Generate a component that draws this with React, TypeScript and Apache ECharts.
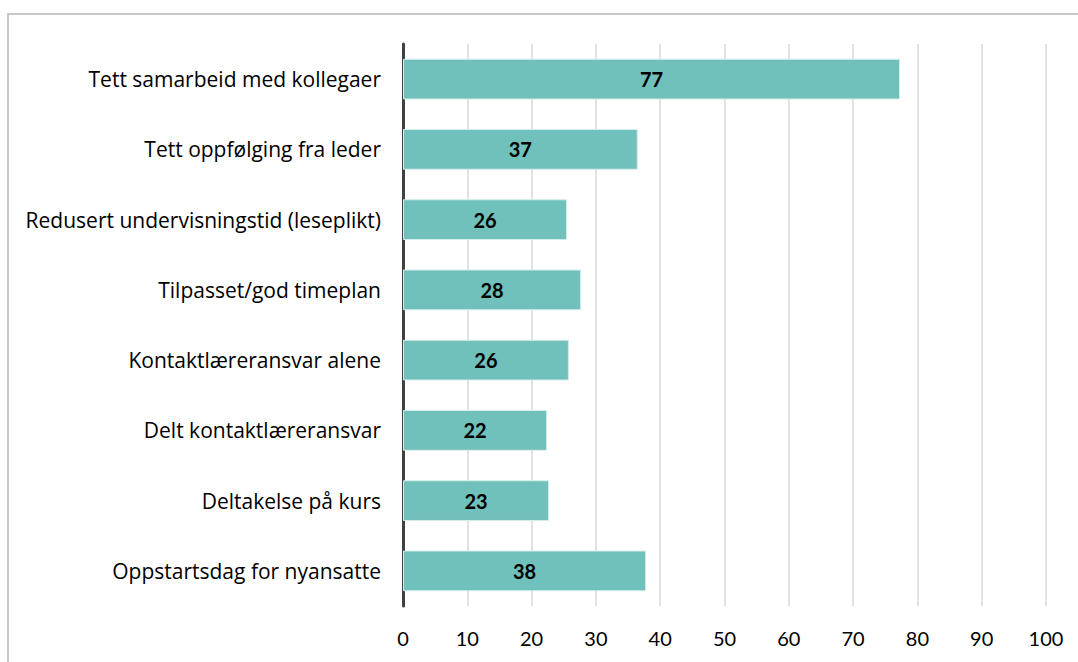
import React, { useEffect, useRef } from "react";
import * as echarts from "echarts";

const categories = [
  "Tett samarbeid med kollegaer",
  "Tett oppfølging fra leder",
  "Redusert undervisningstid (leseplikt)",
  "Tilpasset/god timeplan",
  "Kontaktlæreransvar alene",
  "Delt kontaktlæreransvar",
  "Deltakelse på kurs",
  "Oppstartsdag for nyansatte",
];
const values = [77.3, 36.5, 25.5, 27.7, 25.8, 22.4, 22.7, 37.8];
const xTicks = { min: 0, max: 100, interval: 10 };

export default function App() {
  const ref = useRef<HTMLDivElement>(null);
  useEffect(() => {
    const chart = echarts.init(ref.current!, null, { renderer: "svg" });
    const font = "Lato, 'Noto Sans', sans-serif";
    const catFont = "'Open Sans', 'Noto Sans', sans-serif";
    chart.setOption({
      animation: false,
      backgroundColor: "#ffffff",
      graphic: [
        {
          type: "rect",
          shape: { x: 8, y: 14, width: 1200, height: 800 },
          style: { fill: "none", stroke: "#c8c8c8", lineWidth: 2 },
          silent: true,
          z: -10,
        },
      ],
      grid: { left: 403, right: 32, top: 44, bottom: 56, containLabel: false },
      xAxis: {
        type: "value",
        min: xTicks.min,
        max: xTicks.max,
        interval: xTicks.interval,
        axisLine: { show: false },
        axisTick: { show: false },
        splitLine: { show: true, lineStyle: { color: "#d9d9d9", width: 1.5 } },
        axisLabel: { color: "#000", fontSize: 20, fontFamily: font, margin: 22 },
      },
      yAxis: {
        type: "category",
        data: categories,
        inverse: true,
        axisLine: { show: true, lineStyle: { color: "#404040", width: 3 } },
        axisTick: { show: false },
        axisLabel: { color: "#000", fontSize: 21, fontFamily: catFont, margin: 22 },
      },
      series: [
        {
          type: "bar",
          data: values,
          barWidth: "58%",
          itemStyle: { color: "#70c0bb", borderColor: "#d4ecea", borderWidth: 1 },
          label: {
            show: true,
            position: "inside",
            color: "#000",
            fontWeight: "bold",
            fontSize: 20,
            fontFamily: font,
            formatter: (p: any) => String(Math.round(p.value)),
          },
        },
      ],
    });
    return () => chart.dispose();
  }, []);
  return (
    <div
      ref={ref}
      style={{ position: "fixed", left: 0, top: 0, width: 1078, height: 662 }}
    />
  );
}
